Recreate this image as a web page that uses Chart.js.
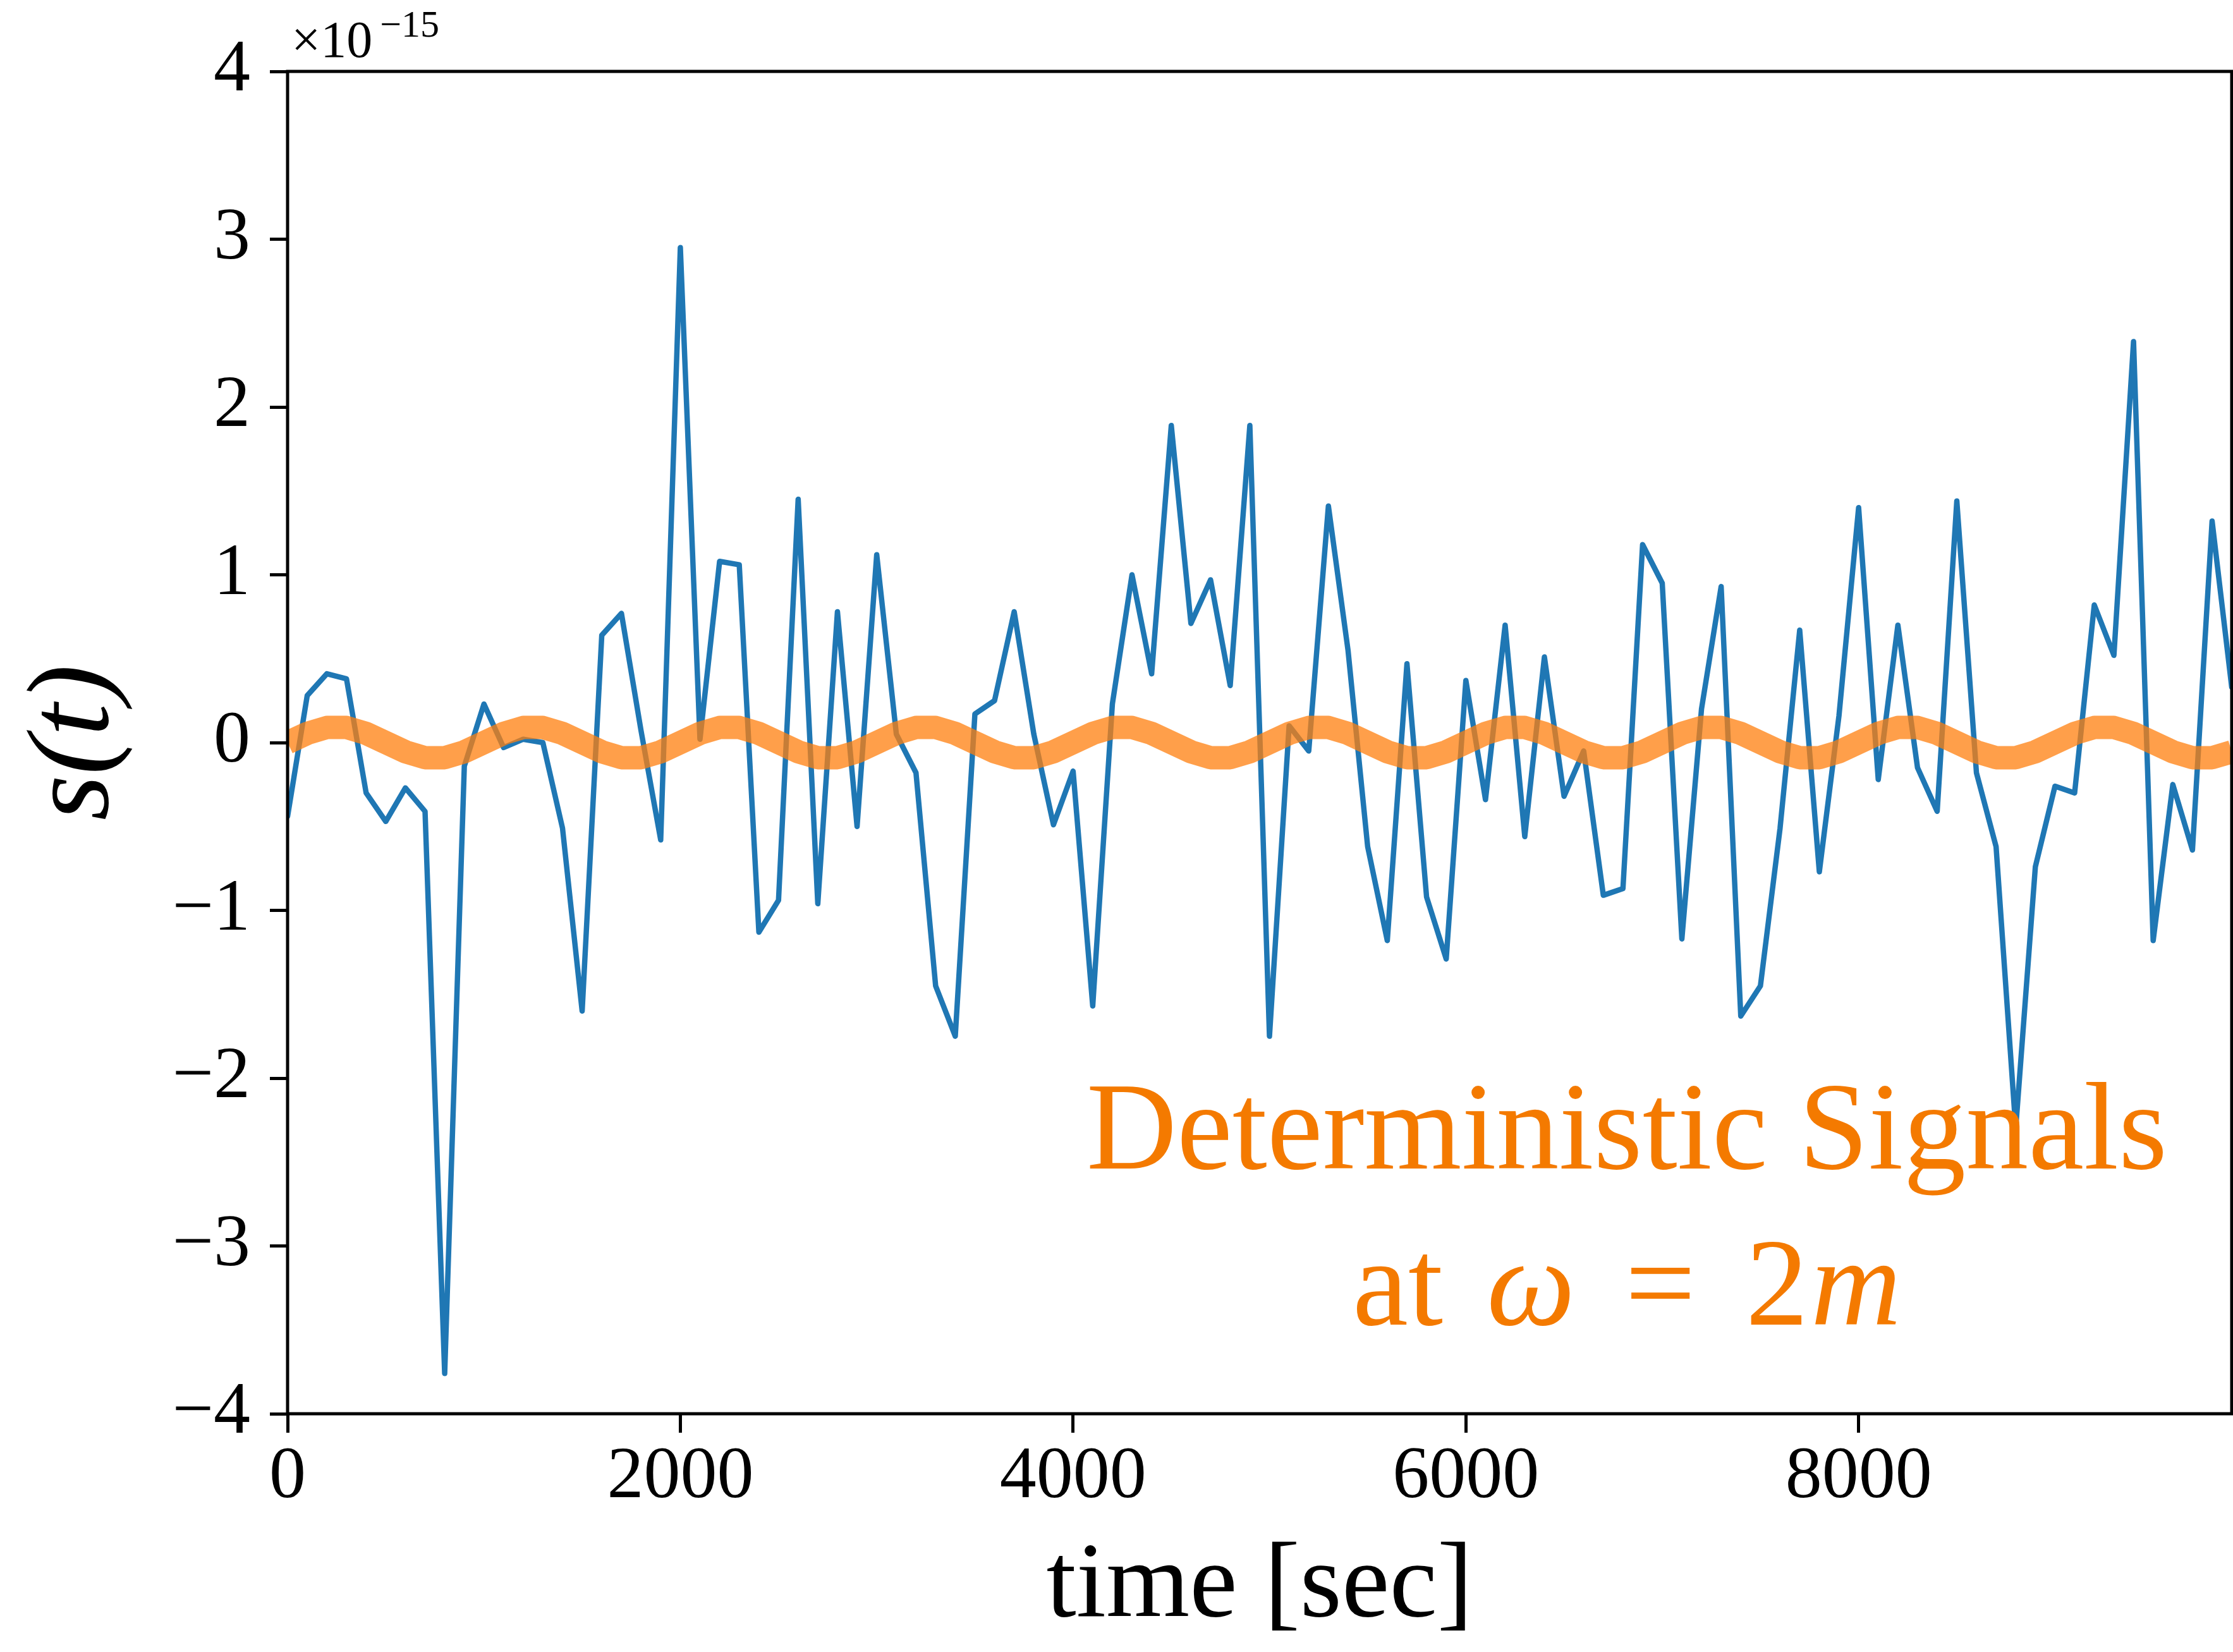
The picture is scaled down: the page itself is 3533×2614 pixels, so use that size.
<!DOCTYPE html>
<html>
<head>
<meta charset="utf-8">
<script src="https://cdn.jsdelivr.net/npm/chart.js@4.4.1/dist/chart.umd.min.js"></script>
<style>
  html, body { margin: 0; padding: 0; background: #fff; }
  #wrap { width: 3533px; height: 2614px; }
</style>
</head>
<body>
<div id="wrap"><canvas id="signalChart" width="3533" height="2614"></canvas></div>
<script>
// sample times [sec]
const times = [
  0, 100, 200, 300, 400, 500, 600, 700, 800, 900,
  1000, 1100, 1200, 1300, 1400, 1500, 1600, 1700, 1800, 1900,
  2000, 2100, 2200, 2300, 2400, 2500, 2600, 2700, 2800, 2900,
  3000, 3100, 3200, 3300, 3400, 3500, 3600, 3700, 3800, 3900,
  4000, 4100, 4200, 4300, 4400, 4500, 4600, 4700, 4800, 4900,
  5000, 5100, 5200, 5300, 5400, 5500, 5600, 5700, 5800, 5900,
  6000, 6100, 6200, 6300, 6400, 6500, 6600, 6700, 6800, 6900,
  7000, 7100, 7200, 7300, 7400, 7500, 7600, 7700, 7800, 7900,
  8000, 8100, 8200, 8300, 8400, 8500, 8600, 8700, 8800, 8900,
  9000, 9100, 9200, 9300, 9400, 9500, 9600, 9700, 9800, 9900
];

// s(t) in units of 1e-15 (blue, noisy)
const noisySignal = [
  -0.44, 0.28, 0.41, 0.38, -0.30, -0.47, -0.27, -0.41, -3.76, -0.14,
  0.23, -0.03, 0.02, 0.00, -0.51, -1.60, 0.64, 0.77, 0.07, -0.58,
  2.95, 0.02, 1.08, 1.06, -1.13, -0.94, 1.45, -0.96, 0.78, -0.50,
  1.12, 0.05, -0.18, -1.45, -1.75, 0.17, 0.25, 0.78, 0.05, -0.49,
  -0.17, -1.57, 0.23, 1.00, 0.41, 1.89, 0.71, 0.97, 0.34, 1.89,
  -1.75, 0.10, -0.05, 1.41, 0.55, -0.62, -1.18, 0.47, -0.92, -1.29,
  0.37, -0.34, 0.70, -0.56, 0.51, -0.32, -0.05, -0.91, -0.87, 1.18,
  0.95, -1.17, 0.20, 0.93, -1.63, -1.45, -0.51, 0.67, -0.77, 0.16,
  1.40, -0.22, 0.70, -0.15, -0.41, 1.44, -0.18, -0.62, -2.30, -0.74,
  -0.26, -0.30, 0.82, 0.52, 2.39, -1.18, -0.25, -0.64, 1.32, 0.33
];

// deterministic signal in units of 1e-15 (orange, thick)
const deterministicSignal = [
  0, 0.055, 0.09, 0.09, 0.055, 0, -0.055, -0.09, -0.09, -0.055,
  0, 0.055, 0.09, 0.09, 0.055, 0, -0.055, -0.09, -0.09, -0.055,
  0, 0.055, 0.09, 0.09, 0.055, 0, -0.055, -0.09, -0.09, -0.055,
  0, 0.055, 0.09, 0.09, 0.055, 0, -0.055, -0.09, -0.09, -0.055,
  0, 0.055, 0.09, 0.09, 0.055, 0, -0.055, -0.09, -0.09, -0.055,
  0, 0.055, 0.09, 0.09, 0.055, 0, -0.055, -0.09, -0.09, -0.055,
  0, 0.055, 0.09, 0.09, 0.055, 0, -0.055, -0.09, -0.09, -0.055,
  0, 0.055, 0.09, 0.09, 0.055, 0, -0.055, -0.09, -0.09, -0.055,
  0, 0.055, 0.09, 0.09, 0.055, 0, -0.055, -0.09, -0.09, -0.055,
  0, 0.055, 0.09, 0.09, 0.055, 0, -0.055, -0.09, -0.09, -0.055
];

const xTickValues = [0, 2000, 4000, 6000, 8000];
const yTickValues = [-4, -3, -2, -1, 0, 1, 2, 3, 4];

const serif = "'Liberation Serif', 'DejaVu Serif', serif";
const noteColor = "#f47a00";

// box around the axes (matplotlib spines)
const framePlugin = {
  id: "frame",
  afterDatasetsDraw(chart) {
    const { ctx, chartArea: a } = chart;
    ctx.save();
    ctx.strokeStyle = "#000";
    ctx.lineWidth = 5;
    ctx.strokeRect(a.left, a.top, a.right - a.left, a.bottom - a.top);
    ctx.restore();
  }
};

// offset text (x10^-15) and the annotation
const textPlugin = {
  id: "notes",
  afterDraw(chart) {
    const { ctx, chartArea: a, scales: { x, y } } = chart;
    ctx.save();

    // x10^-15
    ctx.fillStyle = "#000";
    ctx.textAlign = "left";
    ctx.textBaseline = "alphabetic";
    ctx.font = `82px ${serif}`;
    const ox = a.left + 6;
    ctx.fillText("\u00d710", ox, 90);
    const w10 = ctx.measureText("\u00d710").width;
    ctx.font = `60px ${serif}`;
    ctx.fillText("\u221215", ox + w10 + 12, 58);

    // annotation
    ctx.fillStyle = noteColor;
    const size = 198;
    const cx = x.getPixelForValue(6820);
    ctx.textAlign = "center";
    ctx.font = `${size}px ${serif}`;
    ctx.fillText("Deterministic Signals", cx, y.getPixelForValue(-2.54));

    const parts = [
      { t: "at", style: "normal", gap: 0 },
      { t: "\u03c9", style: "italic", gap: 0.35 },
      { t: "=", style: "normal", gap: 0.4 },
      { t: "2", style: "normal", gap: 0.4 },
      { t: "m", style: "italic", gap: 0.02 }
    ];
    let total = 0;
    parts.forEach((p) => {
      ctx.font = `${p.style} ${size}px ${serif}`;
      p.w = ctx.measureText(p.t).width;
      total += p.gap * size + p.w;
    });
    let px = cx - total / 2;
    const base2 = y.getPixelForValue(-3.47);
    ctx.textAlign = "left";
    parts.forEach((p) => {
      px += p.gap * size;
      ctx.font = `${p.style} ${size}px ${serif}`;
      ctx.fillText(p.t, px, base2);
      px += p.w;
    });
    ctx.restore();
  }
};

const dataConfig = {
  labels: times,
  datasets: [
    {
      label: "s(t)",
      data: times.map((t, i) => ({ x: t, y: noisySignal[i] })),
      borderColor: "#1f77b4",
      borderWidth: 8.5,
      borderJoinStyle: "round",
      borderCapStyle: "round",
      pointRadius: 0,
      tension: 0,
      clip: 0,
      order: 2
    },
    {
      label: "deterministic",
      data: times.map((t, i) => ({ x: t, y: deterministicSignal[i] })),
      borderColor: "rgba(255, 127, 14, 0.75)",
      borderWidth: 37,
      borderJoinStyle: "round",
      borderCapStyle: "butt",
      pointRadius: 0,
      tension: 0,
      clip: 0,
      order: 1
    }
  ]
};

const config = {
  type: "line",
  data: dataConfig,
  plugins: [framePlugin, textPlugin],
  options: {
    responsive: false,
    animation: false,
    devicePixelRatio: 1,
    layout: { padding: { top: 113, right: 2, left: 0, bottom: 0 } },
    plugins: { legend: { display: false }, tooltip: { enabled: false } },
    scales: {
      x: {
        type: "linear",
        min: 0,
        max: 9900,
        afterBuildTicks: (s) => { s.ticks = xTickValues.map((v) => ({ value: v })); },
        afterFit: (s) => { s.height = 377; },
        border: { display: false },
        grid: {
          drawOnChartArea: false,
          drawTicks: true,
          tickLength: 30,
          tickWidth: 5,
          tickColor: "#000"
        },
        ticks: {
          color: "#000",
          padding: 2,
          maxRotation: 0,
          font: { family: serif, size: 116 },
          callback: (v) => String(v)
        },
        title: {
          display: true,
          text: "time [sec]",
          color: "#000",
          padding: { top: 0, bottom: 0 },
          font: { family: serif, size: 170 }
        }
      },
      y: {
        type: "linear",
        min: -4,
        max: 4,
        afterBuildTicks: (s) => { s.ticks = yTickValues.map((v) => ({ value: v })); },
        afterFit: (s) => { s.width = 455; },
        border: { display: false },
        grid: {
          drawOnChartArea: false,
          drawTicks: true,
          tickLength: 28,
          tickWidth: 5,
          tickColor: "#000"
        },
        ticks: {
          color: "#000",
          padding: 31,
          font: { family: serif, size: 116 },
          callback: (v) => (v < 0 ? "\u2212" + (-v) : String(v))
        },
        title: {
          display: true,
          text: "s(t)",
          color: "#000",
          padding: { top: 10, bottom: 0 },
          font: { family: serif, size: 185, style: "italic" }
        }
      }
    }
  }
};

const signalChart = new Chart(document.getElementById("signalChart"), config);
</script>
</body>
</html>
